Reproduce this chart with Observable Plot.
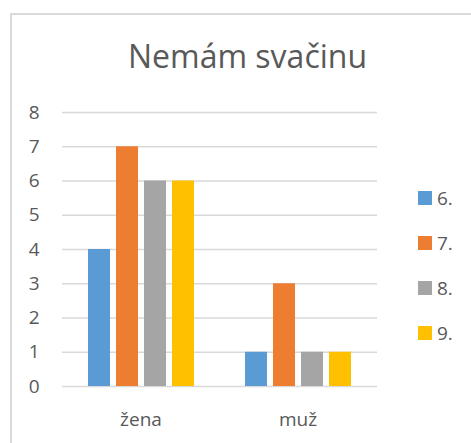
<!DOCTYPE html>
<html>
<head>
<meta charset="utf-8">
<script src="https://cdn.jsdelivr.net/npm/d3@7"></script>
<script src="https://cdn.jsdelivr.net/npm/@observablehq/plot@0.6"></script>
<style>
  html, body { margin: 0; padding: 0; background: #fff; }
  #wrap { position: relative; width: 471px; height: 443px; overflow: hidden; font-family: "Open Sans", sans-serif; color: #595959; }
  #frame { position: absolute; left: 10px; top: 13px; width: 600px; height: 600px; border-left: 2px solid #d9d9d9; border-top: 2px solid #d9d9d9; box-sizing: border-box; }
  #title { position: absolute; left: 0; width: 495px; top: 36px; text-align: center; font-size: 32px; line-height: 40px; }
  .layer { position: absolute; left: 0; top: 0; }
  #legend { position: absolute; left: 418px; top: 185px; }
  .item { position: absolute; left: 0; height: 26px; display: flex; align-items: center; font-size: 19px; white-space: nowrap; }
  .sw { width: 14px; height: 14px; margin-right: 5px; }
</style>
</head>
<body>
<div id="wrap">
  <div id="frame"></div>
  <div id="grid" class="layer"></div>
  <div id="bars" class="layer"></div>
  <div id="title"></div>
  <div id="legend"></div>
</div>
<script>
const title = "Nemám svačinu";
const categories = ["žena", "muž"];
const series = ["6.", "7.", "8.", "9."];
const values6 = [4, 1];
const values7 = [7, 3];
const values8 = [6, 1];
const values9 = [6, 1];
const colors = ["#5B9BD5", "#ED7D31", "#A5A5A5", "#FFC000"];
const yTicks = [0, 1, 2, 3, 4, 5, 6, 7, 8];

const seriesValues = [values6, values7, values8, values9];
const rows = [];
categories.forEach((c, ci) => {
  series.forEach((s, si) => {
    rows.push({category: c, series: s, value: seriesValues[si][ci]});
  });
});

document.getElementById("title").textContent = title;

const common = {
  width: 471,
  height: 443,
  marginLeft: 62,
  marginRight: 94,
  marginTop: 112,
  marginBottom: 57,
  style: {fontFamily: "Open Sans, sans-serif", fontSize: "19px", color: "#595959", background: "transparent", overflow: "visible"}
};

// Base layer: gridlines and y axis spanning the whole frame
const grid = Plot.plot({
  ...common,
  y: {domain: [0, 8], ticks: yTicks, axis: "left", tickSize: 0, tickPadding: 23, label: null, tickFormat: d => String(d)},
  marks: [
    Plot.ruleY(yTicks, {stroke: "#d9d9d9", strokeWidth: 1.5})
  ]
});
document.getElementById("grid").appendChild(grid);

// Bars layer: grouped bars via fx facets
const bars = Plot.plot({
  ...common,
  fx: {domain: categories, paddingInner: 0.316, paddingOuter: 0.155, axis: "bottom", tickSize: 0, tickPadding: 26, label: null},
  x: {domain: series, paddingInner: 0.23, paddingOuter: 0, axis: null},
  y: {domain: [0, 8], axis: null},
  color: {domain: series, range: colors},
  marks: [
    Plot.barY(rows, {fx: "category", x: "series", y: "value", fill: "series"})
  ]
});
document.getElementById("bars").appendChild(bars);

const legend = document.getElementById("legend");
series.forEach((s, i) => {
  const item = document.createElement("div");
  item.className = "item";
  item.style.top = (i * 45) + "px";
  const sw = document.createElement("div");
  sw.className = "sw";
  sw.style.background = colors[i];
  const label = document.createElement("span");
  label.textContent = s;
  item.appendChild(sw);
  item.appendChild(label);
  legend.appendChild(item);
});
</script>
</body>
</html>
